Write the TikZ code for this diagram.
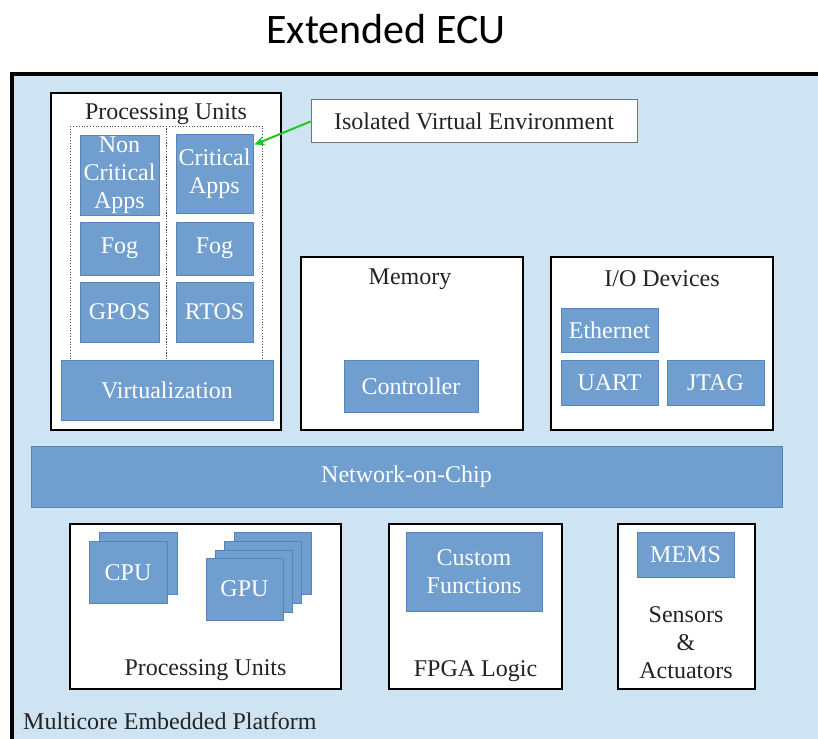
\documentclass[tikz,border=0pt]{standalone}
\usepackage{fontspec}
\setmainfont{Liberation Serif}
\newfontfamily\titlefont{Carlito}
\usetikzlibrary{arrows.meta,positioning}

\definecolor{platform}{RGB}{207,228,242}
\definecolor{unitfill}{RGB}{112,158,207}
\definecolor{unitedge}{RGB}{88,132,186}
\definecolor{inktext}{RGB}{35,35,35}
\definecolor{linkgreen}{RGB}{30,200,30}

\tikzset{
  unit/.style={draw=unitedge, fill=unitfill, line width=0.8pt, text=white,
    inner sep=0pt, align=center, font=\fontsize{24}{28}\selectfont},
  block/.style={draw=black, fill=white, line width=2.6pt, inner sep=0pt},
  label/.style={text=inktext, inner sep=0pt, align=center, font=\fontsize{24}{28}\selectfont},
  partition/.style={draw=black!70, dotted, line width=0.8pt},
}

\begin{document}
\begin{tikzpicture}[x=1pt,y=-1pt]
\useasboundingbox (0,0) rectangle (818,738);
\begin{scope}
\clip (0,0) rectangle (818,738);
% multicore platform
\fill[white] (0,0) rectangle (818,738);
\draw[fill=platform, line width=3.5pt] (12,74) rectangle (850,770);
\end{scope}

\node[text=black, font=\titlefont\fontsize{42}{46}\selectfont] (title) at (386,29) {Extended ECU};

% ---- processing units with virtualization ----
\node[block, minimum width=230pt, minimum height=337pt] (pu) at (166,261.5) {};
\node[label] (putitle) at (166,114) {Processing Units};
\draw[partition] (70,126) rectangle (166,361);
\draw[partition] (166,126) rectangle (262,361);
\node[unit, minimum width=79pt, minimum height=80pt] (ncapps) at (119.5,175) {Non\\Critical\\Apps};
\node[unit, minimum width=77pt, minimum height=79pt] (capps) at (214.5,173.5) {Critical\\Apps};
\node[unit, minimum width=79pt, minimum height=53pt] (fogl) at (119.5,248.5) {Fog};
\node[unit, minimum width=77pt, minimum height=53pt] (fogr) at (214.5,248.5) {Fog};
\node[unit, minimum width=79pt, minimum height=60pt] (gpos) at (119.5,312) {GPOS};
\node[unit, minimum width=77pt, minimum height=60pt] (rtos) at (214.5,312) {RTOS};
\node[unit, minimum width=212pt, minimum height=60pt] (virt) at (167,390) {Virtualization};

% ---- isolated environment callout ----
\node[draw=black!55, fill=white, line width=1pt, minimum width=326pt, minimum height=43pt,
  text=inktext, font=\fontsize{24}{28}\selectfont] (ive) at (474,121.5) {Isolated Virtual Environment};
\draw[linkgreen, line width=2pt, -{Stealth[length=10pt,width=9pt]}]
  (ive.west) -- ([yshift=-11pt,xshift=1pt]capps.north east);

% ---- memory ----
\node[block, minimum width=222pt, minimum height=173pt] (mem) at (412,343.5) {};
\node[label] (memtitle) at (410,279) {Memory};
\node[unit, minimum width=134pt, minimum height=52pt] (ctrl) at (411,386) {Controller};

% ---- I/O devices ----
\node[block, minimum width=222pt, minimum height=173pt] (io) at (662,343.5) {};
\node[label] (iotitle) at (662,279) {I/O Devices};
\node[unit, minimum width=97pt, minimum height=44pt] (eth) at (609.5,330) {Ethernet};
\node[unit, minimum width=97pt, minimum height=45pt] (uart) at (609.5,382.5) {UART};
\node[unit, minimum width=97pt, minimum height=45pt] (jtag) at (715.5,382.5) {JTAG};

% ---- interconnect ----
\node[unit, minimum width=751pt, minimum height=61pt] (noc) at (406.5,476.5) {Network-on-Chip};

% ---- hardware processing units ----
\node[block, minimum width=271pt, minimum height=165pt] (hwpu) at (205.5,606.5) {};
\node[unit, minimum width=78pt, minimum height=62pt] (cpub) at (138.5,563) {};
\node[unit, minimum width=78pt, minimum height=62pt] (cpu) at (128,572.5) {CPU};
\node[unit, minimum width=77pt, minimum height=62pt] (gpu4) at (272.5,563) {};
\node[unit, minimum width=77pt, minimum height=62pt] (gpu3) at (263,572) {};
\node[unit, minimum width=77pt, minimum height=62pt] (gpu2) at (253.5,581) {};
\node[unit, minimum width=77pt, minimum height=62pt] (gpu) at (244.5,589) {GPU};
\node[label] (hwputitle) at (205.5,670) {Processing Units};

% ---- FPGA ----
\node[block, minimum width=173pt, minimum height=165pt] (fpga) at (475.5,606.5) {};
\node[unit, minimum width=136pt, minimum height=79pt] (custom) at (474,571.5) {Custom\\Functions};
\node[label] (fpgatitle) at (475.5,671) {FPGA Logic};

% ---- sensors and actuators ----
\node[block, minimum width=137pt, minimum height=165pt] (sens) at (686.5,606.5) {};
\node[unit, minimum width=97pt, minimum height=45pt] (mems) at (685.5,554.5) {MEMS};
\node[label] (senstitle) at (686,643) {Sensors\\\&\\Actuators};

\node[label, anchor=west] (platlabel) at (23,721) {Multicore Embedded Platform};
\end{tikzpicture}
\end{document}
